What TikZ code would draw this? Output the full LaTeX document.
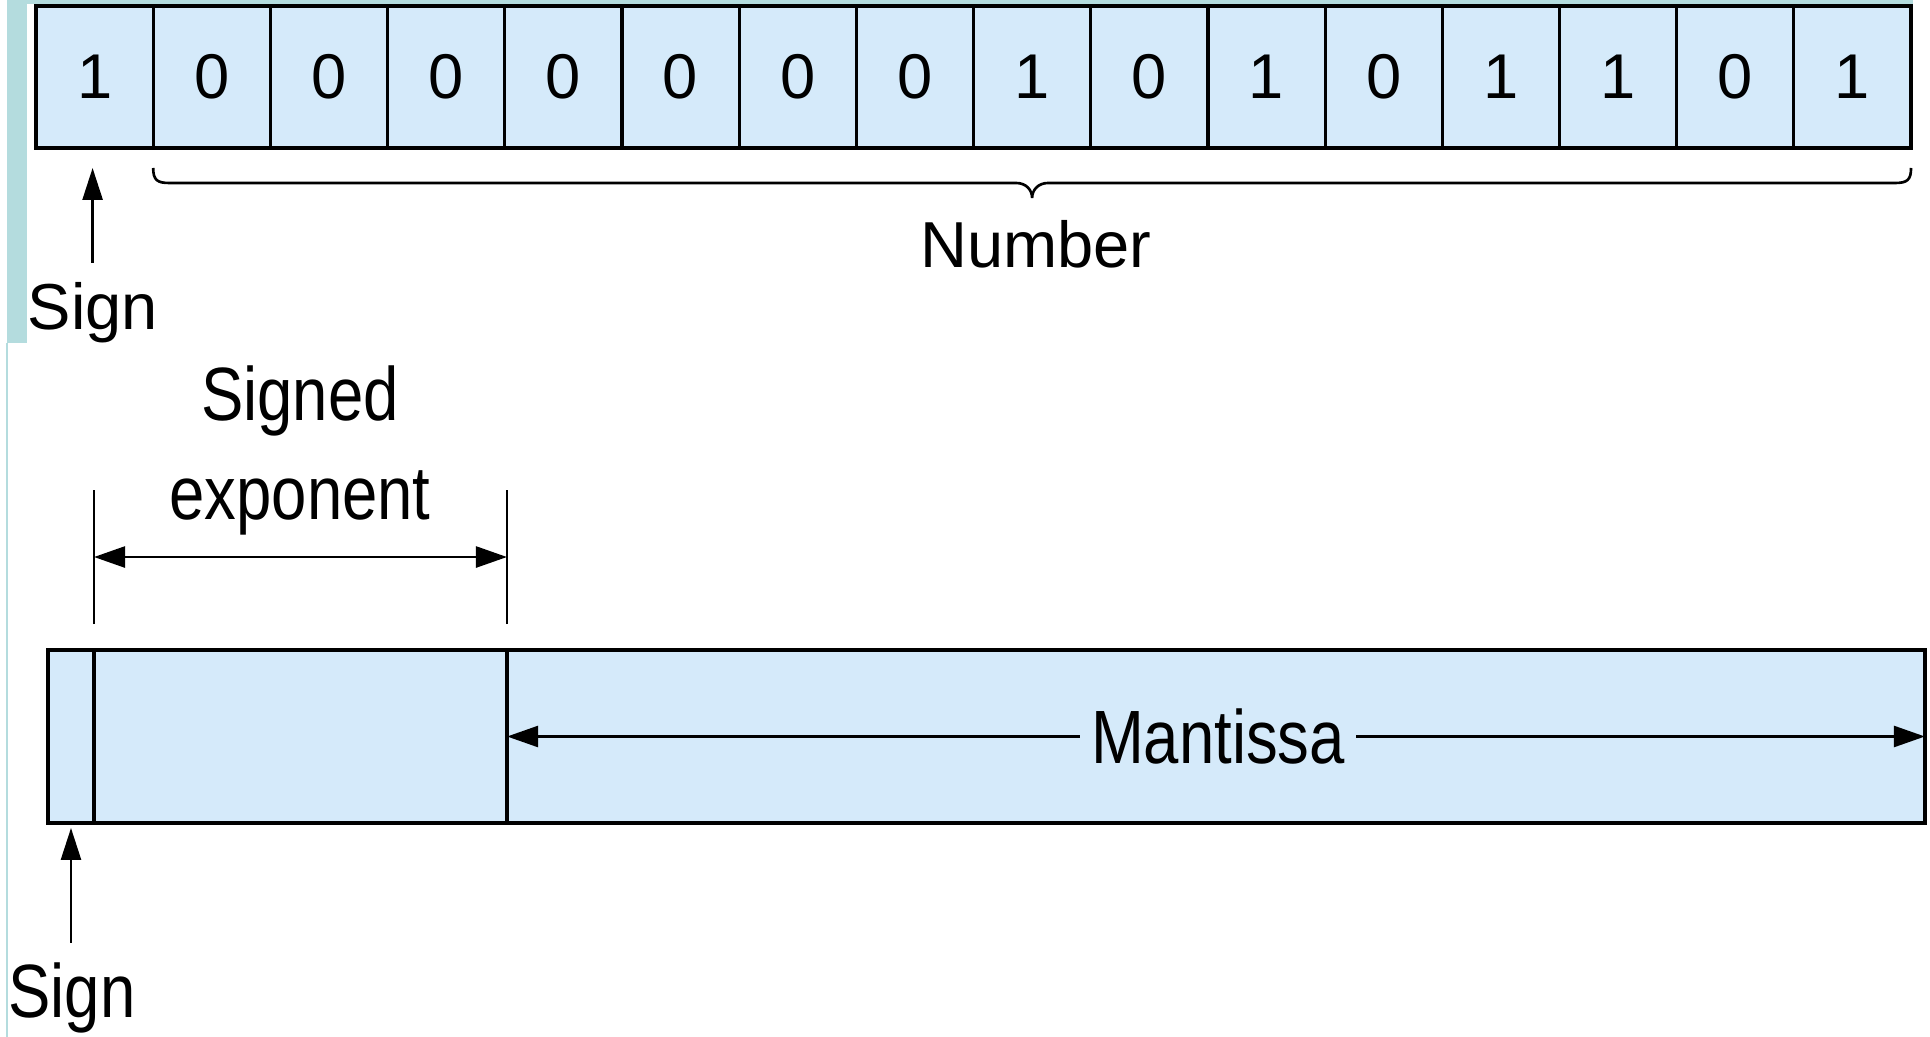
\documentclass[tikz,border=0pt]{standalone}
\usepackage{fontspec}
\setmainfont{Liberation Sans}
\newfontfamily\narrowsans[FakeStretch=0.84]{Liberation Sans}
\usetikzlibrary{arrows.meta,calc}
\definecolor{cellblue}{RGB}{213,234,250}
\definecolor{tealbar}{RGB}{180,220,222}

\begin{document}
\begin{tikzpicture}[x=0.02cm,y=-0.02cm,
  bitcell/.style={draw=black, fill=cellblue, line width=1.8pt,
    minimum width=2.344cm, minimum height=2.84cm, inner sep=0pt, outer sep=0pt,
    font=\fontsize{36}{43}\selectfont},
  field/.style={draw=black, fill=cellblue, line width=1.9pt,
    minimum height=3.46cm, inner sep=0pt, outer sep=0pt},
  toplabel/.style={font=\fontsize{37}{44}\selectfont, inner sep=0pt},
  botlabel/.style={font=\narrowsans\fontsize{43}{50}\selectfont, inner sep=0pt},
  pointer/.style={line width=1.5pt, -{Triangle[length=0.64cm,width=0.4cm]}},
  span/.style={line width=1.5pt,
    {Triangle[length=0.62cm,width=0.42cm]}-{Triangle[length=0.62cm,width=0.42cm]}},
  tickline/.style={line width=1.3pt},
  bracestroke/.style={line width=1.5pt},
]
\useasboundingbox (0,0) rectangle (1930,1037);
\fill[white] (0,0) rectangle (1930,1037);

% page edge strips
\fill[tealbar] (7,0) rectangle (27,343);
\fill[tealbar] (7,0) rectangle (1913,4);
\draw[tealbar, line width=0.8pt] (7,343) -- (7,1037);

% sign-magnitude word: 16 bits
\foreach \b [count=\i] in {1,0,0,0,0,0,0,0,1,0,1,0,1,1,0,1} {
  \node[bitcell] (c\i) at ({36+117.19*(\i-0.5)},77) {\b};
}

% brace under the magnitude bits
\coordinate (bl) at ($(c2.south west)+(0,20)$);
\coordinate (br) at ($(c16.south east)+(0,20)$);
\coordinate (bm) at ($(bl)!0.5!(br)$);
\coordinate (bl2) at ($(bl)+(16,15)$);
\coordinate (bm1) at ($(bm)+(-16,15)$);
\coordinate (bmt) at ($(bm)+(0,30)$);
\coordinate (bm2) at ($(bm)+(16,15)$);
\coordinate (br2) at ($(br)+(-16,15)$);
\draw[bracestroke] (bl) .. controls +(0,12) and +(-12,0) .. (bl2)
  -- (bm1) .. controls +(10,0) and +(0,-8) .. (bmt)
  .. controls +(0,-8) and +(-10,0) .. (bm2)
  -- (br2) .. controls +(12,0) and +(0,12) .. (br);
\node[toplabel, anchor=base] (numlbl) at (1036,268) {Number};

% sign bit pointer
\node[toplabel, anchor=base] (sign1) at (93,329) {Sign};
\coordinate (s1tip) at ($(c1.south)+(-2,20)$);
\coordinate (s1tail) at ($(s1tip)+(0,95)$);
\draw[pointer] (s1tail) -- (s1tip);

% floating-point word
\node[field, minimum width=0.92cm] (sgn) at (71,736.5) {};
\node[field, minimum width=8.26cm] (expo) at (300.5,736.5) {};
\node[field, minimum width=28.36cm] (mant) at (1216,736.5) {};

% exponent extent
\coordinate (etl) at ($(expo.north west)+(0,-26)$);
\coordinate (etl2) at ($(etl)+(0,-134)$);
\coordinate (etr) at ($(expo.north east)+(0,-26)$);
\coordinate (etr2) at ($(etr)+(0,-134)$);
\draw[tickline] (etl) -- (etl2);
\draw[tickline] (etr) -- (etr2);
\coordinate (eal) at ($(etl)+(0,-67)$);
\coordinate (ear) at ($(etr)+(0,-67)$);
\draw[span] (eal) -- (ear);
\node[botlabel, anchor=base] (signed) at (300,420) {Signed};
\node[botlabel, anchor=base] (expon) at (300,519) {exponent};

% mantissa extent
\draw[span] (mant.west) -- (mant.east);
\node[botlabel, fill=cellblue, inner xsep=0.22cm, inner ysep=2pt] (mtxt) at ($(mant.center)+(2,0)$) {Mantissa};

% sign pointer
\node[botlabel, anchor=base] (sign2) at (72,1017) {Sign};
\coordinate (s2tip) at ($(sgn.south)+(0,5)$);
\coordinate (s2tail) at ($(s2tip)+(0,115)$);
\draw[pointer] (s2tail) -- (s2tip);
\end{tikzpicture}
\end{document}
